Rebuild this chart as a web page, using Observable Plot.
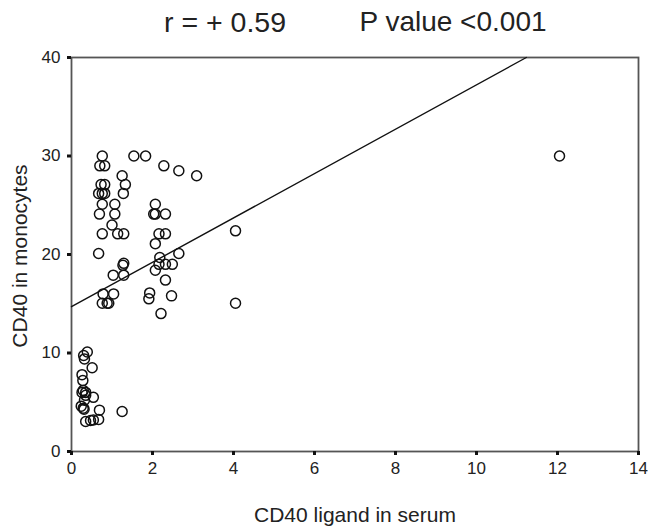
<!DOCTYPE html>
<html><head><meta charset="utf-8">
<script src="https://cdn.jsdelivr.net/npm/d3@7"></script>
<script src="https://cdn.jsdelivr.net/npm/@observablehq/plot@0.6"></script>
<style>
body{margin:0;background:#fff;font-family:"Liberation Sans",Arial,sans-serif;color:#222}
#wrap{position:relative;width:648px;height:531px}
#wrap svg{position:absolute;left:0;top:0}
.t{position:absolute;white-space:nowrap;transform:translate(-50%,-50%);line-height:1}
</style></head><body><div id="wrap"></div>
<script>
const titleLeft = "r = + 0.59";
const titleRight = "P value <0.001";
const xLabel = "CD40 ligand in serum";
const yLabel = "CD40 in monocytes";
const xTicks = [0, 2, 4, 6, 8, 10, 12, 14];
const yTicks = [0, 10, 20, 30, 40];

// CD40 ligand in serum (x) and CD40 in monocytes (y)
const xValues = [
  0.76, 0.70, 0.82, 1.25, 0.73, 0.82, 1.33, 0.67, 0.76, 0.82, 1.28, 0.76, 1.07, 0.69, 1.07, 1.00,
  0.76, 1.14, 1.29, 0.67, 1.29, 1.27, 1.03, 1.29, 0.78, 1.04, 0.76, 0.88, 0.92,
  1.54, 1.83, 2.28, 2.65, 3.09, 2.07, 2.03, 2.07, 2.32, 2.16, 2.32, 2.07, 2.65, 2.18, 2.16, 2.32,
  2.49, 2.07, 2.32, 1.93, 1.91, 2.47, 2.21,
  4.05, 4.05, 12.05,
  0.39, 0.30, 0.32, 0.51, 0.26, 0.28, 0.29, 0.35, 0.26, 0.35, 0.54, 0.32, 0.24, 0.29, 0.31,
  0.69, 1.25, 0.67, 0.35, 0.47, 0.54
];
const yValues = [
  30.0, 29.0, 29.0, 28.0, 27.1, 27.1, 27.1, 26.2, 26.2, 26.2, 26.2, 25.1, 25.1, 24.1, 24.1, 23.0,
  22.1, 22.1, 22.1, 20.1, 19.1, 18.9, 17.9, 17.9, 16.0, 16.0, 15.05, 15.05, 15.05,
  30.0, 30.0, 29.0, 28.5, 28.0, 25.1, 24.1, 24.1, 24.1, 22.1, 22.1, 21.1, 20.1, 19.7, 19.0, 19.0,
  19.0, 18.4, 17.4, 16.1, 15.5, 15.8, 14.0,
  22.4, 15.05, 30.0,
  10.1, 9.75, 9.4, 8.5, 7.8, 7.2, 6.2, 6.0, 6.0, 5.7, 5.5, 5.2, 4.6, 4.4, 4.3,
  4.2, 4.06, 3.25, 3.05, 3.15, 3.2
];
// regression line end points
const fitX = [0, 11.23];
const fitY = [14.7, 40];

const points = xValues.map((x, i) => ({x, y: yValues[i]}));
const fit = fitX.map((x, i) => ({x, y: fitY[i]}));

const chart = Plot.plot({
  width: 648, height: 531,
  marginLeft: 71, marginRight: 10, marginTop: 57, marginBottom: 80,
  x: {domain: [0, 14]},
  y: {domain: [0, 40]},
  style: {fontFamily: '"Liberation Sans", Arial, sans-serif', fontSize: "17px", color: "#222", background: "transparent"},
  marks: [
    Plot.frame({stroke: "#555", strokeWidth: 1.8}),
    Plot.axisX({ticks: xTicks, tickSize: 4, strokeWidth: 3, stroke: "#111", tickPadding: 6, label: null, fontSize: 17, fill: "#222"}),
    Plot.axisY({ticks: yTicks, tickSize: 4, strokeWidth: 3, stroke: "#111", tickPadding: 7, label: null, fontSize: 17, fill: "#222"}),
    Plot.line(fit, {x: "x", y: "y", stroke: "#111", strokeWidth: 1.4}),
    Plot.dot(points, {x: "x", y: "y", r: 5, stroke: "#111", strokeWidth: 1.5, fill: "none"})
  ]
});
const wrap = document.getElementById("wrap");
wrap.appendChild(chart);

function addText(txt, left, top, size, rotate) {
  const d = document.createElement("div");
  d.className = "t";
  d.textContent = txt;
  d.style.left = left + "px";
  d.style.top = top + "px";
  d.style.fontSize = size + "px";
  if (rotate) d.style.transform = "translate(-50%,-50%) rotate(-90deg)";
  wrap.appendChild(d);
}
addText(titleLeft, 225, 22, 28.5);
addText(titleRight, 453, 22, 28);
addText(xLabel, 355, 514, 21);
addText(yLabel, 19, 256, 21, true);
</script></body></html>
